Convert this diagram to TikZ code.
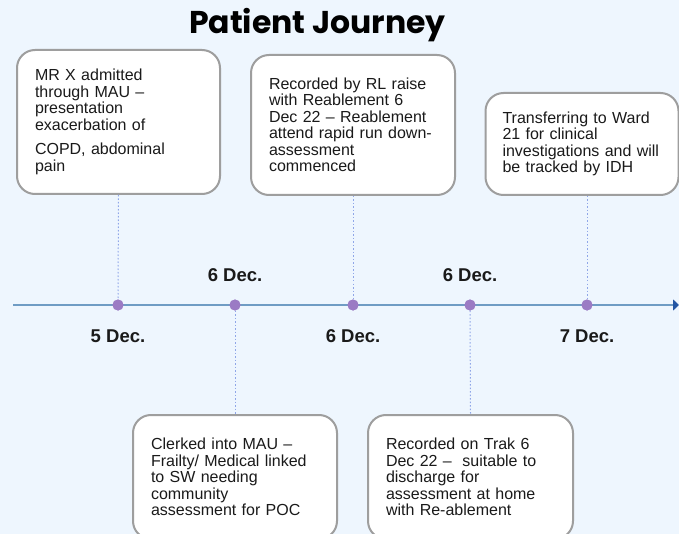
\documentclass[tikz,border=0pt]{standalone}
\usepackage{fontspec}
\setmainfont{Liberation Sans}
\newfontfamily\titlefont{Poppins}
\usetikzlibrary{arrows.meta}

\definecolor{pagebg}{HTML}{EEF6FE}
\definecolor{cardedge}{HTML}{9E9E9E}
\definecolor{axisblue}{HTML}{6F9CC4}
\definecolor{tipblue}{HTML}{2456A4}
\definecolor{dotpurple}{HTML}{9B7BC4}
\definecolor{linkblue}{HTML}{8FA6E8}
\definecolor{ink}{HTML}{1A1A1A}

\tikzset{
  card/.style={draw=cardedge, line width=2pt, fill=white, rounded corners=18pt,
    inner xsep=18pt, inner ysep=0pt, align=left, text=ink,
    font=\fontsize{16}{16.5}\selectfont},
  event/.style={circle, fill=dotpurple, inner sep=0pt, minimum size=11pt},
  datelabel/.style={font=\fontsize{18.5}{18.5}\selectfont\bfseries, text=ink, inner sep=0pt, anchor=base},
  link/.style={draw=linkblue, line width=1pt, dash pattern=on 1.5pt off 2pt},
  axis/.style={draw=axisblue, line width=2.4pt,
    -{Triangle[length=6pt,width=11pt,color=tipblue]}}
}

\begin{document}
\begin{tikzpicture}[x=1pt,y=-1pt]
  \useasboundingbox (0,0) rectangle (679,534);
  \fill[pagebg] (0,0) rectangle (679,534);

  % heading
  \node[font=\titlefont\fontsize{31.5}{31.5}\selectfont\bfseries, anchor=base, inner sep=0pt] (title)
    at (317.5,34) {Patient Journey};

  % time axis with its five events
  \coordinate (axstart) at (13,305);
  \coordinate (axend) at (679,305);
  \draw[axis] (axstart) -- (axend);
  \node[event] (d1) at (118,305) {};
  \node[event] (d2) at (235,305) {};
  \node[event] (d3) at (353,305) {};
  \node[event] (d4) at (470,305) {};
  \node[event] (d5) at (587,305) {};

  % dates
  \node[datelabel] (t1) at (118,342) {5 Dec.};
  \node[datelabel] (t2) at (235,281) {6 Dec.};
  \node[datelabel] (t3) at (353,342) {6 Dec.};
  \node[datelabel] (t4) at (470,281) {6 Dec.};
  \node[datelabel] (t5) at (587,342) {7 Dec.};

  % event descriptions above the axis
  \node[card, minimum width=203pt, minimum height=144pt, text width=167pt] (b1) at (118.5,122)
    {MR X admitted\\through MAU --\\presentation\\exacerbation of\\[8pt]COPD, abdominal\\pain};
  \node[card, minimum width=204pt, minimum height=140pt, text width=168pt] (b2) at (353,125)
    {Recorded by RL raise\\with Reablement 6\\Dec 22 -- Reablement\\attend rapid run down-\\assessment\\commenced};
  \node[card, minimum width=193pt, minimum height=102pt, text width=159pt, inner xsep=17pt] (b3) at (582,144)
    {Transferring to Ward\\21 for clinical\\investigations and will\\be tracked by IDH};

  % event descriptions below the axis
  \node[card, minimum width=204pt, minimum height=124pt, text width=168pt] (b4) at (235,477)
    {Clerked into MAU --\\Frailty/ Medical linked\\to SW needing\\community\\assessment for POC};
  \node[card, minimum width=205pt, minimum height=124pt, text width=169pt] (b5) at (470.5,477)
    {Recorded on Trak 6\\Dec 22 --\ \ suitable to\\discharge for\\assessment at home\\with Re-ablement};

  % dotted leaders between descriptions and events
  \draw[link] (b1.south) -- (d1.north);
  \draw[link] (b2.south) -- (d3.north);
  \draw[link] (b3.south -| d5) -- (d5.north);
  \draw[link] (d2.south) -- (b4.north);
  \draw[link] (d4.south) -- (b5.north);

  % redraw dots over the leaders
  \foreach \d in {d1,d2,d3,d4,d5} \fill[dotpurple] (\d) circle (5.5pt);
\end{tikzpicture}
\end{document}
